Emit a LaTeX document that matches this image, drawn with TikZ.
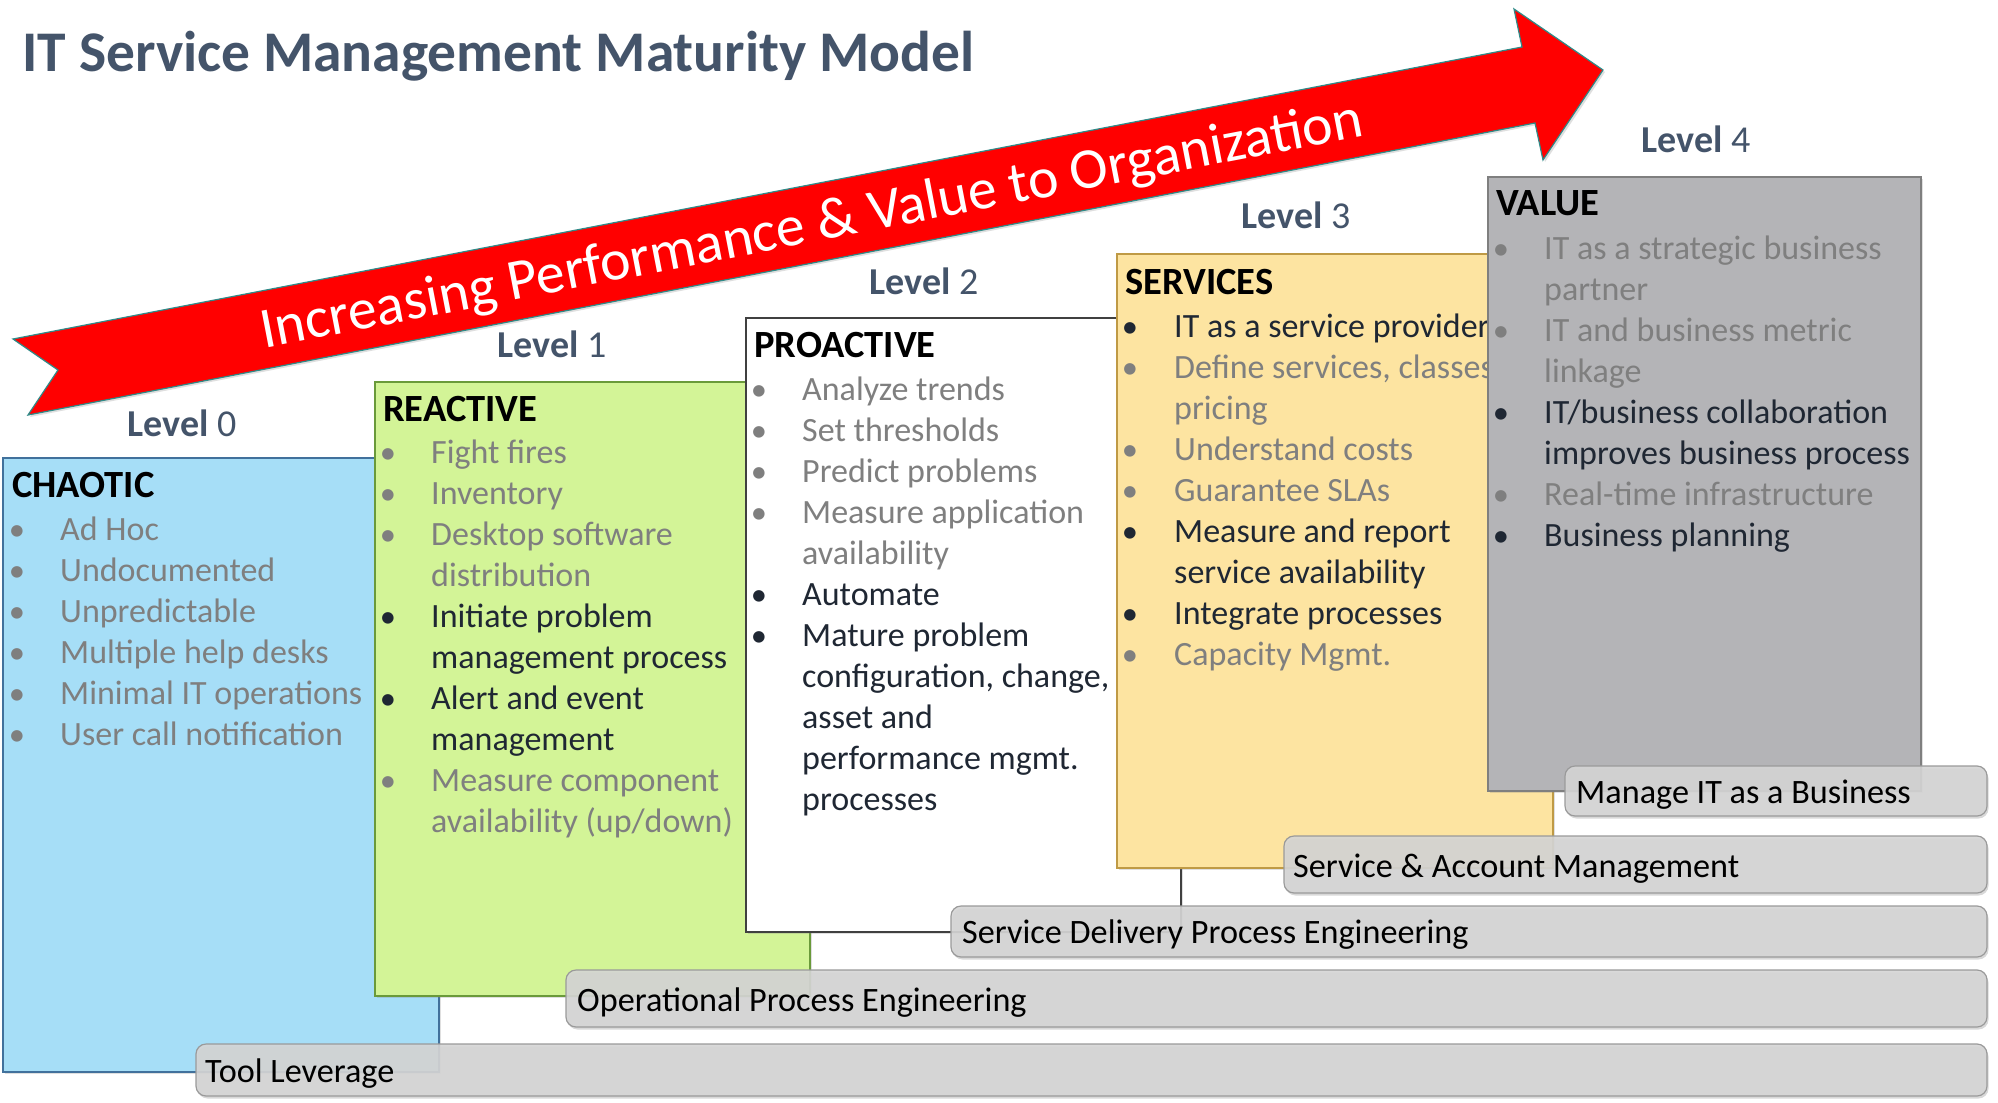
\documentclass[tikz,border=0pt]{standalone}
\usepackage{fontspec}
\setmainfont{Carlito}
\usetikzlibrary{shadows}
\definecolor{ttl}{HTML}{44546A}
\definecolor{gtx}{HTML}{7F7F7F}
\definecolor{dtx}{HTML}{1F2733}
\definecolor{bluef}{HTML}{A6DEF7}
\definecolor{blued}{HTML}{41719C}
\definecolor{greenf}{HTML}{D3F497}
\definecolor{greend}{HTML}{6A9A3A}
\definecolor{yellowf}{HTML}{FDE4A1}
\definecolor{yellowd}{HTML}{BF9A45}
\definecolor{grayf}{HTML}{B4B4B7}
\definecolor{grayd}{HTML}{7F7F7F}
\definecolor{barf}{HTML}{D5D5D5}
\definecolor{bard}{HTML}{9A9A9A}
\definecolor{arrowd}{HTML}{2F8A88}
\newcommand\itm[6]{%
  \node[bul,text=#5] (#1b) at (#2,#4) {•};
  \node[txt,text=#5] (#1) at (#3,#4) {#6};}
\newcommand\cnt[5]{%
  \node[txt,text=#4] (#1) at (#2,#3) {#5};}
\begin{document}
\begin{tikzpicture}[x=1pt,y=-1pt,
  txt/.style={font=\fontsize{34}{41}\selectfont, inner sep=0pt, anchor=base west},
  bul/.style={font=\fontsize{32.5}{41}\selectfont, inner sep=0pt, anchor=base},
  boxttl/.style={font=\fontsize{38.5}{42}\selectfont\bfseries, text=black, inner sep=0pt, anchor=base west},
  lvl/.style={font=\fontsize{38}{40}\selectfont, text=ttl, inner sep=0pt, anchor=base},
  lbox/.style={line width=1.3pt, drop shadow={shadow xshift=2pt, shadow yshift=-2pt, opacity=0.25}},
  bar/.style={rounded corners=10pt, fill=barf, fill opacity=0.9, draw=bard, line width=1.2pt,
    drop shadow={shadow xshift=1.5pt, shadow yshift=-2.5pt, opacity=0.3}},
  bartxt/.style={font=\fontsize{34.2}{41}\selectfont, text=black, inner sep=0pt, anchor=base west}]
\useasboundingbox (0,0) rectangle (1998,1103);
\fill[white] (0,0) rectangle (1998,1103);

% title
\node[font=\fontsize{57.5}{60}\selectfont\bfseries, text=ttl, inner sep=0pt, anchor=base west] (title) at (22,71) {IT Service Management Maturity Model};

% arrow
\draw[fill=red, draw=arrowd, line width=1.2pt, drop shadow={shadow xshift=2pt, shadow yshift=-2pt, opacity=0.25}]
  (13,339) -- (1522,47) -- (1514,9) -- (1603,70) -- (1543,160) -- (1535,123) -- (28,415) -- (58,370) -- cycle;
\node[font=\fontsize{57.8}{60}\selectfont, text=white, rotate=10.95, inner sep=0pt, anchor=base] (arrowtxt) at (815,242) {Increasing Performance \& Value to Organization};

% level boxes
\draw[lbox, fill=bluef, draw=blued] (3,458) rectangle (439,1072);
\draw[lbox, fill=greenf, draw=greend] (375,382) rectangle (810,996);
\draw[lbox, fill=white, draw=black!75] (746,318) rectangle (1181,932);
\draw[lbox, fill=yellowf, draw=yellowd] (1117,254) rectangle (1553,868);

% level labels
\node[lvl] (lv0) at (182,436) {\textbf{Level} 0};
\node[lvl] (lv1) at (552,357) {\textbf{Level} 1};
\node[lvl] (lv2) at (924,294) {\textbf{Level} 2};
\node[lvl] (lv3) at (1296,228) {\textbf{Level} 3};
\node[lvl] (lv4) at (1696,152) {\textbf{Level} 4};

% CHAOTIC
\node[boxttl] (t0) at (12,497) {CHAOTIC};
\itm{c1}{17}{60}{540}{gtx}{Ad Hoc}
\itm{c2}{17}{60}{581}{gtx}{Undocumented}
\itm{c3}{17}{60}{622}{gtx}{Unpredictable}
\itm{c4}{17}{60}{663}{gtx}{Multiple help desks}
\itm{c5}{17}{60}{704}{gtx}{Minimal IT operations}
\itm{c6}{17}{60}{745}{gtx}{User call notification}

% REACTIVE
\node[boxttl] (t1) at (383,421) {REACTIVE};
\itm{r1}{388}{431}{463}{gtx}{Fight fires}
\itm{r2}{388}{431}{504}{gtx}{Inventory}
\itm{r3}{388}{431}{545}{gtx}{Desktop software}
\cnt{r3a}{431}{586}{gtx}{distribution}
\itm{r4}{388}{431}{627}{dtx}{Initiate problem}
\cnt{r4a}{431}{668}{dtx}{management process}
\itm{r5}{388}{431}{709}{dtx}{Alert and event}
\cnt{r5a}{431}{750}{dtx}{management}
\itm{r6}{388}{431}{791}{gtx}{Measure component}
\cnt{r6a}{431}{832}{gtx}{availability (up/down)}

% PROACTIVE
\node[boxttl] (t2) at (754,357) {PROACTIVE};
\itm{p1}{759}{802}{400}{gtx}{Analyze trends}
\itm{p2}{759}{802}{441}{gtx}{Set thresholds}
\itm{p3}{759}{802}{482}{gtx}{Predict problems}
\itm{p4}{759}{802}{523}{gtx}{Measure application}
\cnt{p4a}{802}{564}{gtx}{availability}
\itm{p5}{759}{802}{605}{dtx}{Automate}
\itm{p6}{759}{802}{646}{dtx}{Mature problem}
\cnt{p6a}{802}{687}{dtx}{configuration, change,}
\cnt{p6b}{802}{728}{dtx}{asset and}
\cnt{p6c}{802}{769}{dtx}{performance mgmt.}
\cnt{p6d}{802}{810}{dtx}{processes}

% SERVICES
\node[boxttl] (t3) at (1125,294) {SERVICES};
\itm{s1}{1130}{1174}{337}{dtx}{IT as a service provider}
\itm{s2}{1130}{1174}{378}{gtx}{Define services, classes,}
\cnt{s2a}{1174}{419}{gtx}{pricing}
\itm{s3}{1130}{1174}{460}{gtx}{Understand costs}
\itm{s4}{1130}{1174}{501}{gtx}{Guarantee SLAs}
\itm{s5}{1130}{1174}{542}{dtx}{Measure and report}
\cnt{s5a}{1174}{583}{dtx}{service availability}
\itm{s6}{1130}{1174}{624}{dtx}{Integrate processes}
\itm{s7}{1130}{1174}{665}{gtx}{Capacity Mgmt.}

% VALUE box (on top of SERVICES text)
\draw[lbox, fill=grayf, draw=grayd] (1488,177) rectangle (1921,791);
\node[boxttl] (t4) at (1496,215) {VALUE};
\itm{v1}{1501}{1544}{259}{gtx}{IT as a strategic business}
\cnt{v1a}{1544}{300}{gtx}{partner}
\itm{v2}{1501}{1544}{341}{gtx}{IT and business metric}
\cnt{v2a}{1544}{382}{gtx}{linkage}
\itm{v3}{1501}{1544}{423}{dtx}{IT/business collaboration}
\cnt{v3a}{1544}{464}{dtx}{improves business process}
\itm{v4}{1501}{1544}{505}{gtx}{Real-time infrastructure}
\itm{v5}{1501}{1544}{546}{dtx}{Business planning}

% bars
\draw[bar] (1565,766) rectangle (1987,816);
\node[bartxt] (b5) at (1576,803) {Manage IT as a Business};
\draw[bar] (1284,836) rectangle (1987,893);
\node[bartxt] (b4) at (1293,877) {Service \& Account Management};
\draw[bar] (951,906) rectangle (1987,957);
\node[bartxt] (b3) at (962,943) {Service Delivery Process Engineering};
\draw[bar] (566,970) rectangle (1987,1027);
\node[bartxt] (b2) at (577,1011) {Operational Process Engineering};
\draw[bar] (196,1044) rectangle (1987,1096);
\node[bartxt] (b1) at (205,1082) {Tool Leverage};
\end{tikzpicture}
\end{document}
